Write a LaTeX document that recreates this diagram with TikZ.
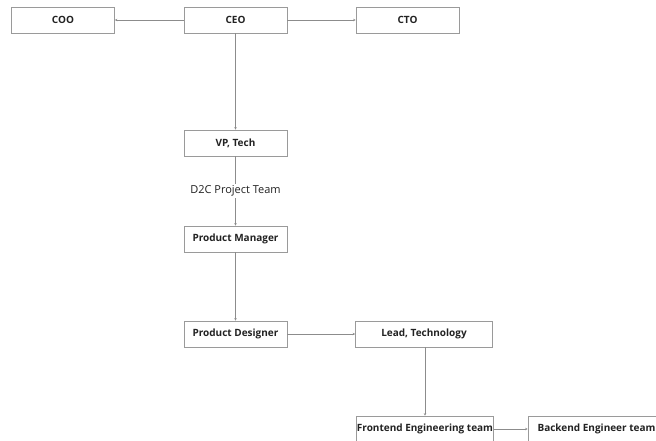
\documentclass[tikz,border=0pt]{standalone}
\usepackage{fontspec}
\setmainfont{Open Sans}
\usetikzlibrary{arrows.meta}
\definecolor{boxgray}{HTML}{9A9A9A}
\definecolor{linegray}{HTML}{8C8C8C}
\definecolor{inkblack}{HTML}{222222}
\tikzset{
	role/.style={draw=boxgray, line width=0.7pt, fill=white, minimum width=103pt, minimum height=26pt,
		inner sep=0pt, font=\fontsize{10}{12}\selectfont\bfseries, text=inkblack},
	widerole/.style={role, minimum width=137pt},
	link/.style={draw=linegray, line width=0.6pt, -{Stealth[length=2.5pt,width=2.5pt]}}
}
\begin{document}
\begin{tikzpicture}[x=1pt, y=-1pt]
			\useasboundingbox (0,0) rectangle (656,441);
			
			% Top level
			\node[role] (ceo) at (235.5,20) {CEO};
			\node[role] (coo) at (63,20) {COO};
			\node[role] (cto) at (407.5,20) {CTO};
			
			% Project chain
			\node[role] (vp) at (235.5,143) {VP, Tech};
			\node[role] (pm) at (235.5,239) {Product Manager};
			\node[role] (pd) at (235.5,334) {Product Designer};
			\node[widerole] (lead) at (424,334) {Lead, Technology};
			
			% Teams
			\node[widerole] (fe) at (425,429) {Frontend Engineering team};
			\node[widerole] (be) at (596.5,429) {Backend Engineer team};
			
			% Connectors
			\draw[link] (ceo) -- (coo);
			\draw[link] (ceo) -- (cto);
			\draw[link] (ceo) -- (vp);
			\draw[link] (vp) -- node[fill=white, inner sep=2pt, font=\fontsize{11}{13}\selectfont, text=inkblack] {D2C Project Team} (pm);
			\draw[link] (pm) -- (pd);
			\draw[link] (pd) -- (lead);
			\draw[link] (fe.north |- lead.south) -- (fe);
			\draw[link] (fe) -- (be);
			
		\end{tikzpicture}
\end{document}
